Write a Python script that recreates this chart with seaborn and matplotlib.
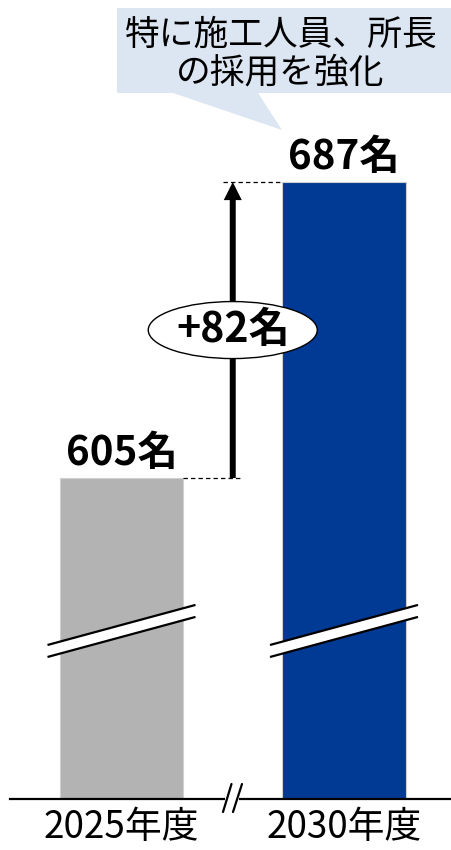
import matplotlib
matplotlib.use("Agg")
import matplotlib.pyplot as plt
import seaborn as sns
import pandas as pd
from matplotlib.patches import Polygon, Ellipse

# ---- data ----
years = ["2025年度", "2030年度"]
staff = [605, 687]
value_labels = ["605名", "687名"]
diff_label = "+82名"
callout_lines = ["特に施工人員、所長", "の採用を強化"]
bar_colors = ["#B3B3B3", "#003A94"]

sns.set_style("white")
plt.rcParams["font.family"] = ["Noto Sans CJK JP", "DejaVu Sans"]

W, H = 452, 850
fig = plt.figure(figsize=(W / 100, H / 100), dpi=100)

def fx(x):
    return x / W

def fy(y):
    return 1 - y / H

# axes spans baseline (y=799px) up to top of figure
ax = fig.add_axes([fx(10), fy(799), (450 - 10) / W, 799 / H])

df = pd.DataFrame({"year": years, "staff": staff})
sns.barplot(data=df, x="year", y="staff", hue="year", palette=bar_colors,
            width=0.553, legend=False, ax=ax, saturation=1,
            edgecolor=["#D0D0D0", "#3A6CC4"], linewidth=0.8)

# broken-axis scaling: 3.61 px per person
px_per_unit = 3.61
px_per_x = 222.5
ymin = 516.1
ax.set_ylim(ymin, ymin + 799 / px_per_unit)
ax.set_xlim(-(121.5 - 10) / px_per_x, 1 + (450 - 344) / px_per_x)

for s in ["left", "right", "top"]:
    ax.spines[s].set_visible(False)
ax.spines["bottom"].set_linewidth(1.6)
ax.spines["bottom"].set_color("black")
ax.set_yticks([])
ax.set_xlabel("")
ax.set_ylabel("")
ax.tick_params(axis="x", length=0, pad=6.5, labelsize=26.5, colors="black")
ax.set_xticks(range(len(years)))
ax.set_xticklabels(years)

# value labels
for i, (v, lab) in enumerate(zip(staff, value_labels)):
    ax.annotate(lab, xy=(i, v), xytext=(0, 9.5), textcoords="offset points",
                ha="center", va="baseline", fontsize=29, fontweight="bold",
                color="black")

# arrow between bars
xm = 0.5
ax.annotate("", xy=(xm, staff[1]), xytext=(xm, staff[0]),
            arrowprops=dict(arrowstyle="simple,head_width=1.3,head_length=1.3,tail_width=0.43",
                            fc="black", ec="none", shrinkA=0, shrinkB=0,
                            mutation_scale=10))

half_w = 0.553 / 2
dx = 10 / px_per_x
ax.plot([0 + half_w, xm + dx], [staff[0], staff[0]], color="black", lw=0.9,
        dashes=(3.5, 2.5))
ax.plot([xm - dx, 1 - half_w], [staff[1], staff[1]], color="black", lw=0.9,
        dashes=(3.5, 2.5))

# ellipse with difference label
ymid = (staff[0] + staff[1]) / 2
ax.add_patch(Ellipse((xm, ymid), 169 / px_per_x, 57 / px_per_unit,
                     facecolor="white", edgecolor="black", lw=1.0, zorder=5))
ax.annotate(diff_label, xy=(xm, ymid), xytext=(0, -8.5), textcoords="offset points",
            ha="center", va="baseline", fontsize=29.5, fontweight="bold",
            color="black", zorder=6)

# break marks on bars
bx = 74 / px_per_x
yl, yr = 557.1, 568.2
off = 6 / px_per_unit
for i in range(len(staff)):
    poly = [(i - bx, yl - off), (i + bx, yr - off), (i + bx, yr + off), (i - bx, yl + off)]
    ax.add_patch(Polygon(poly, closed=True, facecolor="white", edgecolor="none", zorder=3))
    ax.plot([i - bx, i + bx], [yl + off, yr + off], color="black", lw=1.6, zorder=4,
            solid_capstyle="butt")
    ax.plot([i - bx, i + bx], [yl - off, yr - off], color="black", lw=1.6, zorder=4,
            solid_capstyle="butt")

# axis break on baseline
fig.patches.append(Polygon([(fx(225), fy(792)), (fx(239), fy(792)), (fx(239), fy(806)),
                            (fx(225), fy(806))], closed=True, transform=fig.transFigure,
                           facecolor="white", edgecolor="none", zorder=10))
for (x1, x2) in [(223, 231.5), (233, 242)]:
    fig.add_artist(plt.Line2D([fx(x1), fx(x2)], [fy(812), fy(784)], transform=fig.transFigure,
                              color="black", lw=1.6, zorder=11))

# callout
callout = [(117, 8), (452, 8), (452, 93), (258, 93), (282, 130), (173, 93), (117, 93)]
fig.patches.append(Polygon([(fx(x), fy(y)) for x, y in callout], closed=True,
                           transform=fig.transFigure, facecolor="#DCE6F2",
                           edgecolor="none", zorder=0))
fig.text(fx(281), fy(44.5), callout_lines[0], ha="center", va="baseline",
         fontsize=25, color="black")
fig.text(fx(280), fy(82.5), callout_lines[1], ha="center", va="baseline",
         fontsize=25, color="black")

fig.savefig("out.png", dpi=100)
